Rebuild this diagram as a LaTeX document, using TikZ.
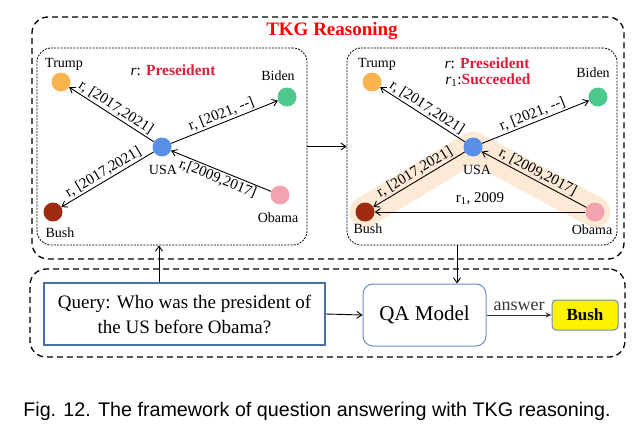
\documentclass[tikz,border=0pt]{standalone}
\usepackage{fontspec}
\setmainfont{Liberation Serif}
\newfontfamily\capfont{Liberation Sans}
\usetikzlibrary{arrows.meta,backgrounds}
\definecolor{ctrump}{HTML}{F9B450}
\definecolor{cbiden}{HTML}{4CC98B}
\definecolor{cusa}{HTML}{5A8FE8}
\definecolor{cobama}{HTML}{F2A3AE}
\definecolor{cbush}{HTML}{9E2A12}
\definecolor{crel}{HTML}{DC1E3C}
\definecolor{cband}{HTML}{FCEAD6}
\definecolor{cqbox}{HTML}{4A72A8}
\definecolor{cqa}{HTML}{6A8DC2}
\begin{document}
\begin{tikzpicture}[x=1pt,y=-1pt,
  ent/.style={circle, minimum size=19pt, inner sep=0pt},
  lab/.style={font=\fontsize{14}{16}\selectfont, inner sep=1pt},
  elab/.style={font=\fontsize{15}{16}\selectfont, sloped, inner sep=1.5pt},
  arr/.style={-{Straight Barb[length=5pt,width=7pt]}, line width=0.9pt},
  outerbox/.style={draw, line width=1.3pt, dash pattern=on 6pt off 4pt, rounded corners=16pt, inner sep=0pt},
  innerbox/.style={draw, line width=0.8pt, dash pattern=on 2pt off 1.2pt, rounded corners=14pt, inner sep=0pt},
  rel/.style={font=\fontsize{15.5}{18}\selectfont, inner sep=0pt},
]
\useasboundingbox (0,0) rectangle (642,441);

% outer boxes
\node[outerbox, minimum width=592pt, minimum height=242pt] (TKG) at (328,138) {};
\node[outerbox, minimum width=595pt, minimum height=88pt] (QAB) at (327.5,313) {};
\node[font=\bfseries\fontsize{19}{20}\selectfont, text=red] (title) at (332,31) {TKG Reasoning};

% inner boxes
\node[innerbox, minimum width=270pt, minimum height=197pt] (LB) at (172,146.5) {};
\node[innerbox, minimum width=270pt, minimum height=197pt] (RB) at (482,146.5) {};

% ---------- left graph ----------
\node[ent, fill=ctrump] (lT) at (61,82) {};
\node[ent, fill=cbiden] (lBi) at (287,97) {};
\node[ent, fill=cusa] (lU) at (162,147) {};
\node[ent, fill=cobama] (lO) at (280,195) {};
\node[ent, fill=cbush] (lBu) at (53,212) {};
\node[lab] (lTl) at (64,64) {Trump};
\node[lab] (lBil) at (278,76) {Biden};
\node[lab] (lUl) at (163,170) {USA};
\node[lab] (lOl) at (278,218) {Obama};
\node[lab] (lBul) at (60,233) {Bush};
\node[rel] (lrel) at (173,70) {\textit{r}: \textcolor{crel}{\bfseries Preseident}};
\draw[arr, {Straight Barb[length=5pt,width=7pt]}-] (lT) -- node[elab, above] {r, [2017,2021]} (lU);
\draw[arr] (lU) -- node[elab, above] {r, [2021, {-}{-}]} (lBi);
\draw[arr, {Straight Barb[length=5pt,width=7pt]}-] (lBu) -- node[elab, above] {r, [2017,2021]} (lU);
\draw[arr, {Straight Barb[length=5pt,width=7pt]}-] (lU) -- node[elab, below] {r,[2009,2017]} (lO);

% ---------- right graph ----------
\node[ent, fill=ctrump] (rT) at (372,82) {};
\node[ent, fill=cbiden] (rBi) at (598,97) {};
\node[ent, fill=cusa] (rU) at (473,147) {};
\node[ent, fill=cobama] (rO) at (595,212) {};
\node[ent, fill=cbush] (rBu) at (365,212) {};
\begin{scope}[on background layer]
\draw[cband, line width=31pt, line cap=round, line join=round] (rBu.center) -- (rU.center) -- (rO.center);
\end{scope}
\node[lab] (rTl) at (377,64) {Trump};
\node[lab] (rBil) at (593,73) {Biden};
\node[lab] (rUl) at (477,170) {USA};
\node[lab] (rOl) at (592,230) {Obama};
\node[lab] (rBul) at (368,229) {Bush};
\node[rel] (rrel) at (487,63) {\textit{r}: \textcolor{crel}{\bfseries Preseident}};
\node[rel] (rrel1) at (488,80) {\textit{r}\textsubscript{1}:\textcolor{crel}{\bfseries Succeeded}};
\draw[arr, {Straight Barb[length=5pt,width=7pt]}-] (rT) -- node[elab, above] {r, [2017,2021]} (rU);
\draw[arr] (rU) -- node[elab, above] {r, [2021, {-}{-}]} (rBi);
\draw[arr, {Straight Barb[length=5pt,width=7pt]}-] (rBu) -- node[elab, above] {r, [2017,2021]} (rU);
\draw[arr, {Straight Barb[length=5pt,width=7pt]}-] (rU) -- node[elab, above] {r, [2009,2017]} (rO);
\draw[arr] (rO) -- node[elab, above, yshift=5pt] {r\textsubscript{1}, 2009} (rBu);

% panel to panel
\draw[arr] (LB.east) -- (RB.west);

% ---------- bottom ----------
\node[draw=cqbox, line width=1.3pt, minimum width=281pt, minimum height=62pt, align=center, font=\fontsize{19}{25}\selectfont] (Q) at (184.5,314) {Query: Who was the president of\\the US before Obama?};
\node[draw=cqa, line width=1pt, rounded corners=10pt, minimum width=123pt, minimum height=62pt, font=\fontsize{21}{24}\selectfont] (QA) at (424.5,315) {QA Model};
\node[draw=cqa, fill=yellow, rounded corners=4pt, line width=1pt, minimum width=66pt, minimum height=30pt, font=\bfseries\fontsize{17}{20}\selectfont] (ans) at (585,315) {Bush};

\draw[arr] ([xshift=-25.5pt]Q.north) -- ([xshift=-25.5pt]Q.north |- LB.south);
\draw[arr] ([xshift=32.5pt]QA.north |- RB.south) -- ([xshift=32.5pt]QA.north);
\draw[arr] (Q.east) -- (QA.west);
\draw[-{Stealth[length=6pt,width=5pt]}, line width=1pt, black!80] (QA.east) -- node[above, font=\fontsize{18}{20}\selectfont, inner sep=4pt] (anslab) {answer} (ans.west);

% caption
\node[font=\capfont\fontsize{19.7}{22}\selectfont] (cap) at (317,411) {Fig. 12. The framework of question answering with TKG reasoning.};
\end{tikzpicture}
\end{document}
